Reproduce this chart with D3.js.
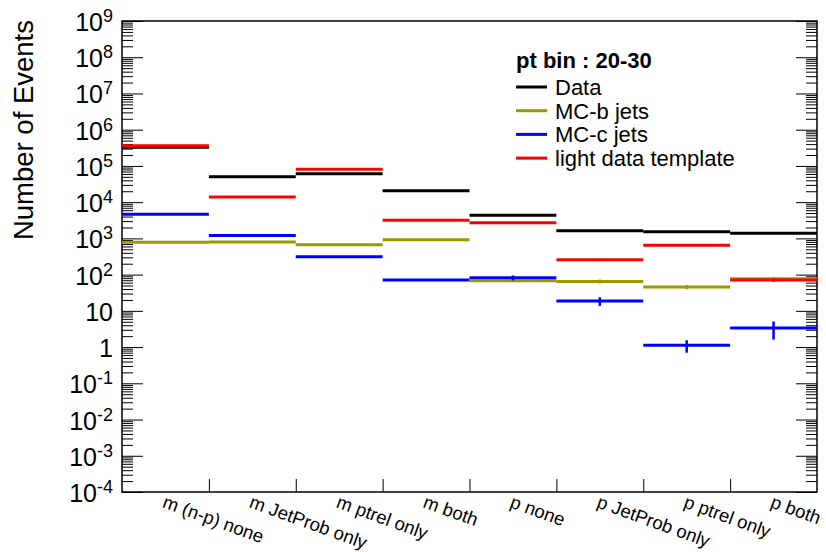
<!DOCTYPE html>
<html>
<head>
<meta charset="utf-8">
<script src="https://cdn.jsdelivr.net/npm/d3@7"></script>
<style>
  body { margin: 0; background: #fff; }
  svg text { font-family: "Liberation Sans", Arial, Helvetica, sans-serif; }
</style>
</head>
<body>
<script>
// bins of the template fit, pt bin 20-30
const categories = ["m (n-p) none", "m JetProb only", "m ptrel only", "m both",
                    "p none", "p JetProb only", "p ptrel only", "p both"];

const dataVals  = [3.3e5, 5.0e4, 6.1e4, 2.07e4, 4.34e3, 1.63e3, 1.53e3, 1.38e3];
const dataErr   = [575, 224, 247, 144, 66, 40, 39, 37];
const mcbVals   = [780, 790, 670, 920, 68, 65, 45.5, 77];
const mcbErr    = [8, 8, 8, 9, 4, 8, 6, 7];
const mccVals   = [4.6e3, 1.21e3, 313, 71, 82, 18.7, 1.12, 3.36];
const mccErr    = [30, 15, 8, 4, 13, 5, 0.42, 1.75];
const lightVals = [3.6e5, 1.39e4, 8.1e4, 3.15e3, 2.71e3, 258, 644, 71];
const lightErr  = [600, 120, 280, 55, 50, 16, 25, 8];

const yMajor = [-4, -3, -2, -1, 0, 1, 2, 3, 4, 5, 6, 7, 8, 9];
const legendTitle = "pt bin : 20-30";

const series = [
  {name: "Data", vals: dataVals, err: dataErr, color: "#000000"},
  {name: "MC-b jets", vals: mcbVals, err: mcbErr, color: "#999900"},
  {name: "MC-c jets", vals: mccVals, err: mccErr, color: "#0000ff"},
  {name: "light data template", vals: lightVals, err: lightErr, color: "#ff0000"}
];

const W = 826, H = 552;
const margin = {top: 21, right: 9, bottom: 60, left: 122};

const svg = d3.select("body").append("svg")
    .attr("width", W)
    .attr("height", H);

const x = d3.scaleBand()
    .domain(categories)
    .range([margin.left, W - margin.right])
    .padding(0);

const xEdge = d3.scaleLinear()
    .domain([0, categories.length])
    .range([margin.left, W - margin.right]);

const y = d3.scaleLog()
    .domain([1e-4, 1e9])
    .range([H - margin.bottom, margin.top]);

// minor ticks 2..9 in each decade
let minorTicks = [];
for (let e = -4; e < 9; e++) {
    for (let k = 2; k <= 9; k++) minorTicks.push(k * Math.pow(10, e));
}
const majorTicks = yMajor.map(e => Math.pow(10, e));

function tickAxis(axis, values, size) {
    return axis.tickValues(values).tickSize(size).tickFormat("");
}

// left and right ticks, pointing into the frame
const leftG = svg.append("g").attr("transform", "translate(" + margin.left + ",0)");
leftG.append("g").call(tickAxis(d3.axisLeft(y), minorTicks, -11));
leftG.append("g").call(tickAxis(d3.axisLeft(y), majorTicks, -21));

const rightG = svg.append("g").attr("transform", "translate(" + (W - margin.right) + ",0)");
rightG.append("g").call(tickAxis(d3.axisRight(y), minorTicks, -11));
rightG.append("g").call(tickAxis(d3.axisRight(y), majorTicks, -21));

const bottomG = svg.append("g").attr("transform", "translate(0," + (H - margin.bottom) + ")");
bottomG.call(tickAxis(d3.axisBottom(xEdge), d3.range(1, categories.length), -13));

svg.selectAll(".domain").remove();
svg.selectAll(".tick line").attr("stroke", "#000").attr("stroke-width", 1);

// frame
svg.append("rect")
    .attr("x", margin.left)
    .attr("y", margin.top)
    .attr("width", W - margin.left - margin.right)
    .attr("height", H - margin.top - margin.bottom)
    .attr("fill", "none")
    .attr("stroke", "#000")
    .attr("stroke-width", 1.5);

// y tick labels 10^n
const yLabels = svg.append("g").selectAll("text")
    .data(yMajor)
  .join("text")
    .attr("x", 113)
    .attr("y", d => y(Math.pow(10, d)) + 10)
    .attr("text-anchor", "end")
    .attr("font-size", 25);

yLabels.each(function(d) {
    const t = d3.select(this);
    if (d === 0) { t.text("1"); return; }
    if (d === 1) { t.text("10"); return; }
    t.append("tspan").text("10");
    t.append("tspan").attr("dy", -9).attr("font-size", 18).text(d);
});

// y title
svg.append("text")
    .attr("transform", "translate(33,20) rotate(-90)")
    .attr("text-anchor", "end")
    .attr("font-size", 27.5)
    .text("Number of Events");

// x labels, rotated
svg.append("g").selectAll("text")
    .data(categories)
  .join("text")
    .attr("transform", d => "translate(" + (x(d) + x.bandwidth() / 2 - 4) + ",507) rotate(20)")
    .attr("font-size", 18.5)
    .text(d => d);

// histogram steps and error bars
series.forEach(s => {
    const g = svg.append("g");
    g.selectAll("line.err")
        .data(categories)
      .join("line")
        .attr("class", "err")
        .attr("x1", d => x(d) + x.bandwidth() / 2)
        .attr("x2", d => x(d) + x.bandwidth() / 2)
        .attr("y1", (d, i) => y(s.vals[i] + s.err[i]))
        .attr("y2", (d, i) => y(Math.max(s.vals[i] - s.err[i], 1e-4)))
        .attr("stroke", s.color)
        .attr("stroke-width", 2.5);
    g.selectAll("line.bar")
        .data(categories)
      .join("line")
        .attr("class", "bar")
        .attr("x1", d => x(d))
        .attr("x2", d => x(d) + x.bandwidth())
        .attr("y1", (d, i) => y(s.vals[i]))
        .attr("y2", (d, i) => y(s.vals[i]))
        .attr("stroke", s.color)
        .attr("stroke-width", 3);
});

// legend
const legend = svg.append("g");
legend.append("text")
    .attr("x", 516)
    .attr("y", 68)
    .attr("font-size", 22)
    .attr("font-weight", "bold")
    .text(legendTitle);

const items = legend.selectAll("g.item")
    .data(series)
  .join("g")
    .attr("class", "item")
    .attr("transform", (d, i) => "translate(0," + (87 + i * 23.7) + ")");

items.append("line")
    .attr("x1", 516).attr("x2", 547)
    .attr("stroke", d => d.color)
    .attr("stroke-width", 3);

items.append("text")
    .attr("x", 555)
    .attr("y", 8)
    .attr("font-size", 22)
    .text(d => d.name);
</script>
</body>
</html>
